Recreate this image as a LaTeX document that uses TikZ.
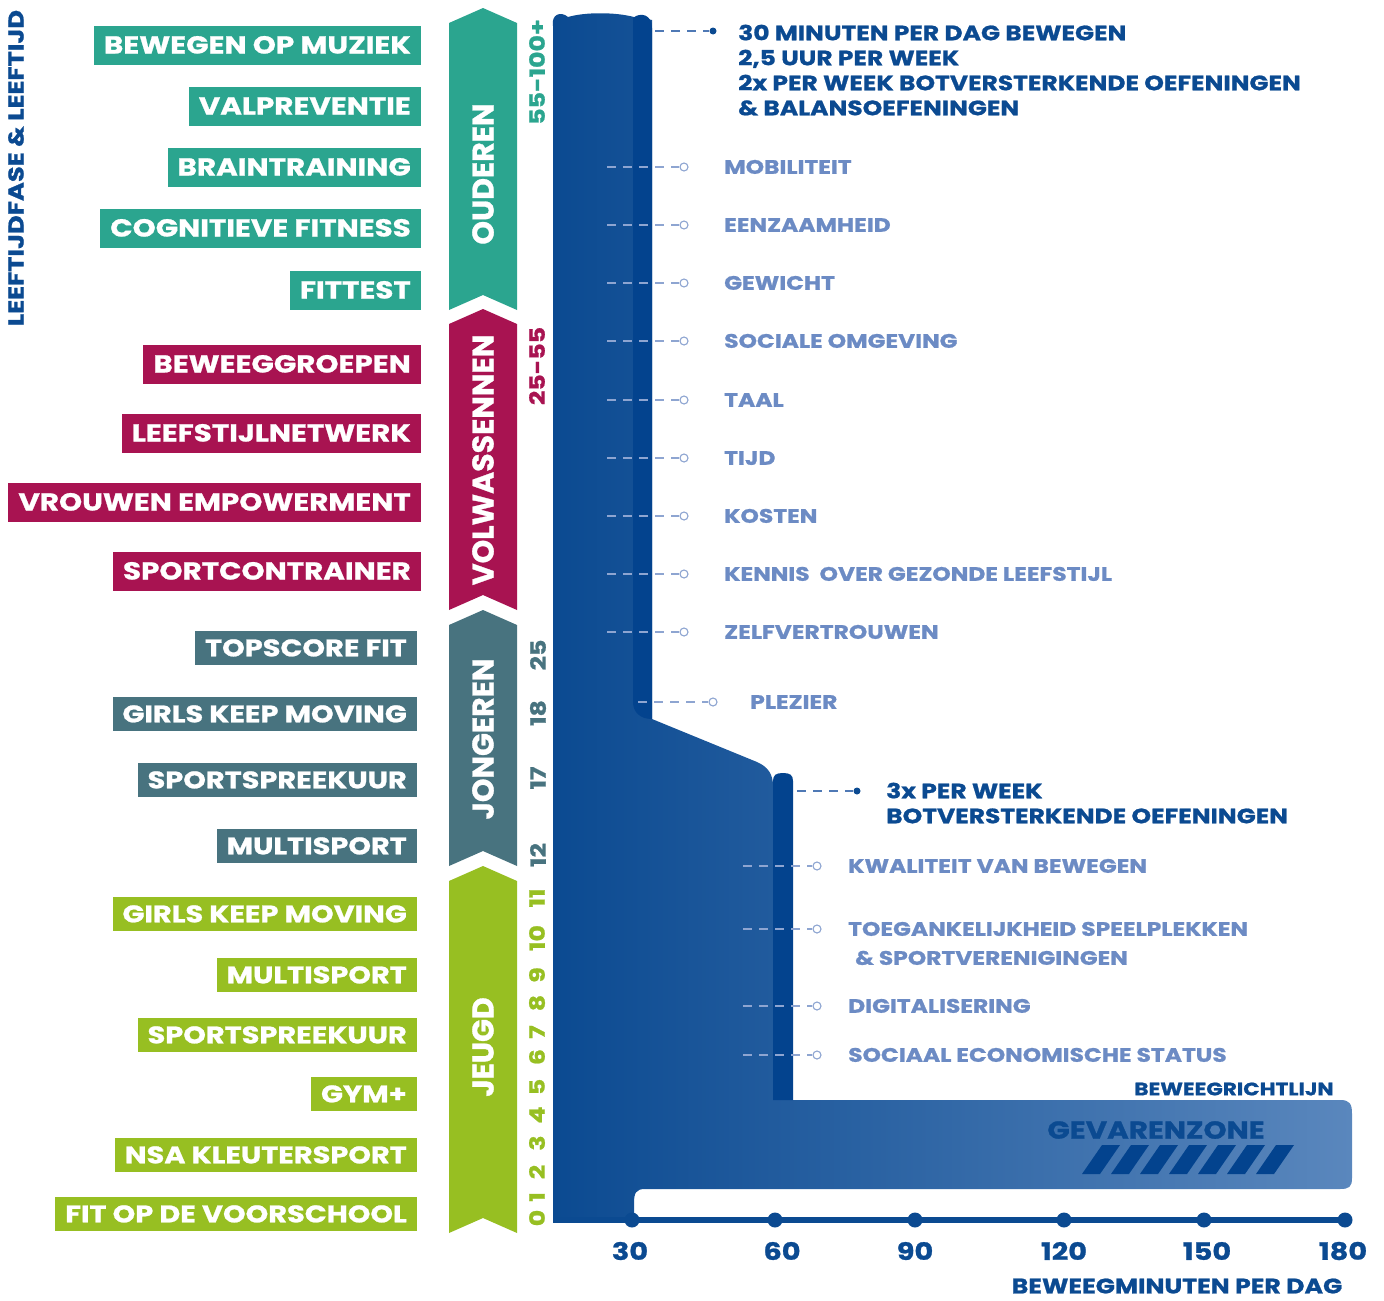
\documentclass[tikz,border=0pt]{standalone}
\usepackage{fontspec}
\setmainfont{Poppins}[FakeStretch=1.2, FakeBold=1]
\newfontfamily\fasefont{Poppins}[FakeBold=1]
\usetikzlibrary{positioning}

\definecolor{ouder}{HTML}{2BA58F}
\definecolor{volw}{HTML}{A81351}
\definecolor{jong}{HTML}{48737F}
\definecolor{jeugd}{HTML}{97BF22}
\definecolor{donker}{HTML}{0B4A91}
\definecolor{strook}{HTML}{03438E}
\definecolor{licht}{HTML}{5A87BD}
\definecolor{factor}{HTML}{6C8BC4}
\definecolor{streep}{HTML}{8EA5D1}
\definecolor{streepdonker}{HTML}{4F79B5}

\tikzset{
  aanbod/.style={fill=#1, text=white, anchor=east, inner xsep=10pt, inner ysep=0pt,
    font=\bfseries\fontsize{24.5}{24.5}\selectfont, text height=17pt, text depth=0pt},
  fase/.style={rotate=90, text=white, font=\fasefont\bfseries\fontsize{30}{30}\selectfont},
  leeftijd/.style={rotate=90, text=#1, font=\bfseries\fontsize{21}{21}\selectfont},
  factor/.style={anchor=west, text=factor, inner sep=0pt,
    font=\bfseries\fontsize{19.5}{19.5}\selectfont, text height=13.6pt, text depth=0pt},
  richtlijn/.style={anchor=west, text=donker, inner sep=0pt,
    font=\bfseries\fontsize{20.8}{20.8}\selectfont, text height=14.5pt, text depth=0pt},
  as/.style={text=donker, font=\bfseries\fontsize{24}{24}\selectfont},
  kring/.style={circle, draw=streep, line width=1.1pt, fill=white, inner sep=0pt, minimum size=8pt},
  punt/.style={circle, fill=donker, inner sep=0pt, minimum size=7pt},
  streep/.style={draw=streep, line width=1.1pt, dash pattern=on 9pt off 7pt},
  streepdonker/.style={draw=streepdonker, line width=1.1pt, dash pattern=on 9pt off 7pt},
}

\begin{document}
\begin{tikzpicture}[x=1pt,y=-1pt]
\useasboundingbox (0,0) rectangle (1384,1301);

% titel links
\node[rotate=90, text=donker, font=\bfseries\fontsize{21.5}{21.5}\selectfont] (titel) at (16,168) {LEEFTIJDFASE \& LEEFTIJD};

% banners per leeftijdfase
\foreach \nm/\t/\b/\c/\txt/\m in {oud/8/310/ouder/OUDEREN/174, volw/309/610/volw/VOLWASSENNEN/460, jong/610/866/jong/JONGEREN/739, jeugd/866/1233/jeugd/JEUGD/1047}{
  \fill[\c] (449,\t+15) -- (483,\t) -- (517,\t+15) -- (517,\b) -- (483,\b-15) -- (449,\b) -- cycle;
  \node[fase] (\nm) at (483,\m) {\txt};
}

% aanbod
\foreach \nm/\y/\txt in {o1/45/BEWEGEN OP MUZIEK, o2/106/VALPREVENTIE, o3/167/BRAINTRAINING, o4/228/COGNITIEVE FITNESS, o5/290/FITTEST}
  \node[aanbod=ouder, minimum height=39pt] (\nm) at (421,\y) {\txt};
\foreach \nm/\y/\txt in {v1/364/BEWEEGGROEPEN, v2/433/LEEFSTIJLNETWERK, v3/502/VROUWEN EMPOWERMENT, v4/571/SPORTCONTRAINER}
  \node[aanbod=volw, minimum height=39pt] (\nm) at (421,\y) {\txt};
\foreach \nm/\y/\txt in {j1/648/TOPSCORE FIT, j2/714/GIRLS KEEP MOVING, j3/780/SPORTSPREEKUUR, j4/846/MULTISPORT}
  \node[aanbod=jong, minimum height=34pt, font=\bfseries\fontsize{24}{24}\selectfont, text height=16.7pt] (\nm) at (417,\y) {\txt};
\foreach \nm/\y/\txt in {k1/914/GIRLS KEEP MOVING, k2/975/MULTISPORT, k3/1035/SPORTSPREEKUUR, k4/1094/GYM+, k5/1155/NSA KLEUTERSPORT, k6/1214/FIT OP DE VOORSCHOOL}
  \node[aanbod=jeugd, minimum height=34pt, font=\bfseries\fontsize{24}{24}\selectfont, text height=16.7pt] (\nm) at (417,\y) {\txt};

% leeftijden
\node[leeftijd=ouder] (l55) at (537,72) {55-100+};
\node[leeftijd=volw] (l25) at (537,366) {25-55};
\foreach \nm/\y/\txt in {a25/655/25, a18/713/18, a17/778/17, a12/855/12}
  \node[leeftijd=jong] (\nm) at (538,\y) {\txt};
\foreach \n/\y in {0/1218, 1/1197, 2/1172, 3/1143, 4/1115, 5/1087, 6/1057, 7/1032, 8/1003, 9/975, 10/938, 11/898}
  \node[leeftijd=jeugd] (n\n) at (537,\y) {\n};

% beweegminuten vlak
\shade[left color=donker, right color=licht]
  (553,1222) -- (553,26) .. controls (551,14) and (561,11) .. (568,17)
  .. controls (585,12) and (615,12) .. (634,17) -- (652,20) -- (652,719)
  -- (757,762) .. controls (768,767) and (773,774) .. (773,786) -- (773,1100)
  -- (1340,1100) .. controls (1350,1100) and (1352,1104) .. (1352,1114)
  -- (1352,1178) .. controls (1352,1187) and (1349,1189) .. (1340,1189)
  -- (645,1189) .. controls (636,1189) and (634,1193) .. (634,1203)
  -- (634,1222) -- cycle;
\fill[strook] (652,719) -- (652,28) .. controls (652,14) and (640,12) .. (633,18)
  -- (633,702) .. controls (633,712) and (640,719) .. (652,719) -- cycle;
\fill[strook] (773,1100) -- (773,781) .. controls (773,775) and (776,773) .. (783,773)
  .. controls (790,773) and (793,775) .. (793,781) -- (793,1100) -- cycle;

% gevarenzone
\node[text=donker, font=\bfseries\fontsize{24.5}{24.5}\selectfont] (gevaar) at (1156,1130) {GEVARENZONE};
\foreach \i in {0,...,6}
  \fill[strook] ({1082+\i*29},1174) -- ({1100+\i*29},1174) -- ({1120+\i*29},1145) -- ({1102+\i*29},1145) -- cycle;
\node[text=donker, font=\bfseries\fontsize{18}{18}\selectfont] (grens) at (1234,1089) {BEWEEGRICHTLIJN};

% as
\coordinate (as0) at (553,1220);
\coordinate (as1) at (1345,1220);
\draw[donker, line width=6.5pt] (as0) -- (as1);
\foreach \x/\v in {632/30, 775/60, 915/90, 1064/120, 1204/150, 1345/180}{
  \fill[donker] (\x,1220) circle (7.5);
}
\foreach \x/\v in {630/30, 782/60, 915/90, 1064/120, 1207/150, 1343/180}
  \node[as] (m\v) at (\x,1251) {\v};
\node[as, font=\bfseries\fontsize{21}{21}\selectfont] (aslabel) at (1177,1286) {BEWEEGMINUTEN PER DAG};

% richtlijn volwassenen
\coordinate (r0) at (655,31);
\node[punt] (r1) at (713,31) {};
\draw[streepdonker] (r0) -- (r1);
\node[richtlijn] (r2) at (738,33) {30 MINUTEN PER DAG BEWEGEN};
\node[richtlijn] (r3) at (738,58) {2,5 UUR PER WEEK};
\node[richtlijn] (r4) at (738,83) {2x PER WEEK BOTVERSTERKENDE OEFENINGEN};
\node[richtlijn] (r5) at (738,108) {\& BALANSOEFENINGEN};

% factoren volwassenen
\foreach \nm/\y/\txt in {mob/167/MOBILITEIT, een/225/EENZAAMHEID, gew/283/GEWICHT, soc/341/SOCIALE OMGEVING, taal/400/TAAL, tijd/458/TIJD, kost/516/KOSTEN, kenn/574/KENNIS\ \ OVER GEZONDE LEEFSTIJL, zelf/632/ZELFVERTROUWEN}{
  \coordinate (\nm0) at (607,\y);
  \node[kring] (\nm1) at (684,\y) {};
  \draw[streep] (\nm0) -- (\nm1);
  \node[factor] (\nm) at (724,\y) {\txt};
}
\coordinate (plez0) at (638,702);
\node[kring] (plez1) at (713,702) {};
\draw[streep] (plez0) -- (plez1);
\node[factor] (plez) at (750,702) {PLEZIER};

% richtlijn jeugd
\coordinate (q0) at (797,791);
\node[punt] (q1) at (857,791) {};
\draw[streepdonker] (q0) -- (q1);
\node[richtlijn] (q2) at (886,791) {3x PER WEEK};
\node[richtlijn] (q3) at (886,816) {BOTVERSTERKENDE OEFENINGEN};

% factoren jeugd
\foreach \nm/\y/\txt in {kwal/866/KWALITEIT VAN BEWEGEN, toeg/929/TOEGANKELIJKHEID SPEELPLEKKEN, digi/1006/DIGITALISERING, ses/1055/SOCIAAL ECONOMISCHE STATUS}{
  \coordinate (\nm0) at (743,\y);
  \node[kring] (\nm1) at (817,\y) {};
  \draw[streep] (\nm0) -- (\nm1);
  \node[factor] (\nm) at (848,\y) {\txt};
}
\node[factor] (toeg2) at (855,958) {\& SPORTVERENIGINGEN};
\end{tikzpicture}
\end{document}
